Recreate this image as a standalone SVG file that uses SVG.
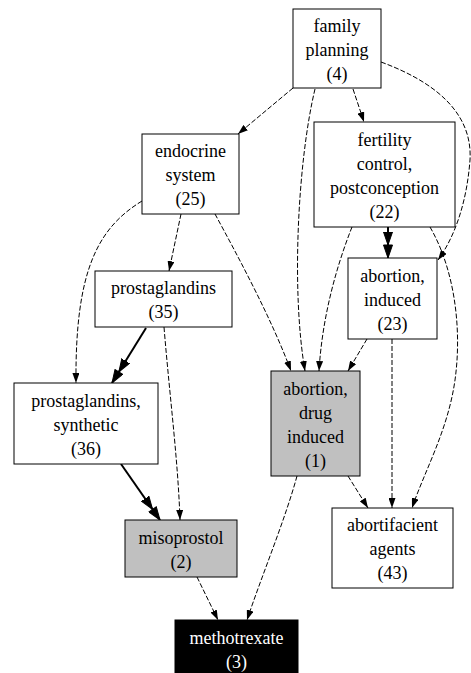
<svg xmlns="http://www.w3.org/2000/svg" width="471" height="673" viewBox="0 0 471 673">
<style>
.n rect{fill:#fff;stroke:#000;stroke-width:1}
.g rect{fill:#c0c0c0}
.b rect{fill:#000}
text{font-size:18px;text-anchor:middle;fill:#000}
.b text{fill:#fff}
.e path{fill:none;stroke:#000}
.d{stroke-width:1;stroke-dasharray:5,2;marker-end:url(#a)}
.s{stroke-width:2;marker-end:url(#bb)}
</style>
<defs>
<marker id="a" viewBox="0 0 10 7" refX="10" refY="3.5" markerWidth="10" markerHeight="7" orient="auto" markerUnits="userSpaceOnUse"><path d="M0,0 L10,3.5 L0,7 z" fill="#000"/></marker>
<marker id="bb" viewBox="0 0 26 10" refX="26" refY="5" markerWidth="26" markerHeight="10" orient="auto" markerUnits="userSpaceOnUse"><path d="M0,0.5 L13,5 L0,9.5 z M13,0.5 L26,5 L13,9.5 z" fill="#000" stroke="#000" stroke-width="1"/></marker>
</defs>
<g id="edges" class="e">
<path class="d" d="M293,88 L238,134"/>
<path class="d" d="M353,89 L364,122"/>
<path class="d" d="M315,89 C298,160 291,290 305,371"/>
<path class="d" d="M381,62 C430,80 473,110 470,160 C467,200 456,235 438,260"/>
<path class="d" d="M181,214 L169,271"/>
<path class="d" d="M142,201 C98,228 75,270 76,383"/>
<path class="d" d="M215,214 C240,260 272,320 291,371"/>
<path class="d" d="M352,227 C335,270 322,320 319,371"/>
<path class="s" d="M388,227 L388,258"/>
<path class="d" d="M430,227 C455,270 462,330 455,380 C448,430 425,470 412,508"/>
<path class="d" d="M367,339 L348,371"/>
<path class="d" d="M392,339 L392,508"/>
<path class="d" d="M348,476 L368,508"/>
<path class="d" d="M297,476 C285,520 262,575 247,620"/>
<path class="s" d="M146,328 L112,383"/>
<path class="d" d="M164,327 C170,400 178,460 180,520"/>
<path class="s" d="M121,464 L160,520"/>
<path class="d" d="M197,577 L218,620"/>
</g>
<g font-family="Liberation Serif, Times New Roman, DejaVu Serif, serif">
<g id="family_planning" class="n"><rect x="293" y="9" width="88" height="79"/><text x="337" y="31.5">family</text><text x="337" y="55.5">planning</text><text x="337" y="79.5">(4)</text></g>
<g id="endocrine_system" class="n"><rect x="142" y="134" width="97" height="80"/><text x="190.5" y="157">endocrine</text><text x="190.5" y="181">system</text><text x="190.5" y="205">(25)</text></g>
<g id="fertility_control" class="n"><rect x="314" y="122" width="141" height="105"/><text x="384.5" y="145.5">fertility</text><text x="384.5" y="169.5">control,</text><text x="384.5" y="193.5">postconception</text><text x="384.5" y="217.5">(22)</text></g>
<g id="abortion_induced" class="n"><rect x="348" y="258" width="89" height="81"/><text x="392.5" y="281.5">abortion,</text><text x="392.5" y="305.5">induced</text><text x="392.5" y="329.5">(23)</text></g>
<g id="prostaglandins" class="n"><rect x="95" y="271" width="137" height="56"/><text x="163.5" y="294">prostaglandins</text><text x="163.5" y="318">(35)</text></g>
<g id="prostaglandins_synthetic" class="n"><rect x="14" y="383" width="144" height="81"/><text x="86" y="406.5">prostaglandins,</text><text x="86" y="430.5">synthetic</text><text x="86" y="454.5">(36)</text></g>
<g id="abortion_drug_induced" class="n g"><rect x="271" y="371" width="89" height="105"/><text x="315.5" y="394.5">abortion,</text><text x="315.5" y="418.5">drug</text><text x="315.5" y="442.5">induced</text><text x="315.5" y="466.5">(1)</text></g>
<g id="abortifacient_agents" class="n"><rect x="332" y="508" width="121" height="80"/><text x="392.5" y="531">abortifacient</text><text x="392.5" y="555">agents</text><text x="392.5" y="579">(43)</text></g>
<g id="misoprostol" class="n g"><rect x="125" y="520" width="112" height="57"/><text x="181" y="543.5">misoprostol</text><text x="181" y="567.5">(2)</text></g>
<g id="methotrexate" class="n b"><rect x="175" y="620" width="123" height="57"/><text x="236.5" y="643.5">methotrexate</text><text x="236.5" y="667.5">(3)</text></g>
</g>
</svg>
